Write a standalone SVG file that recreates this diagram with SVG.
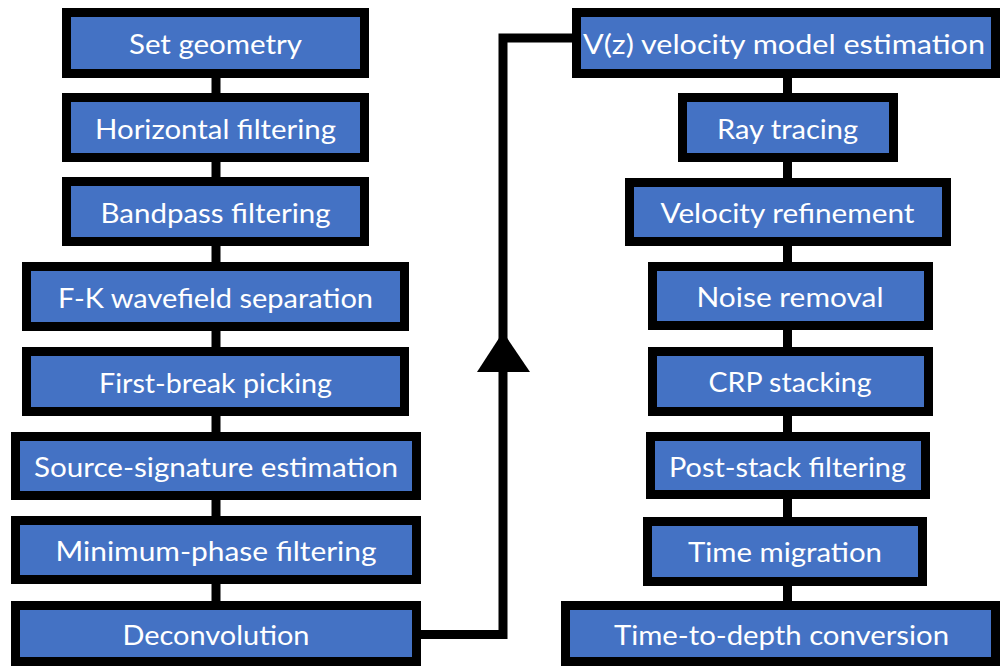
<svg xmlns="http://www.w3.org/2000/svg" width="1000" height="666" viewBox="0 0 1000 666">
<style>
.box{fill:#4472C4;stroke:#000;stroke-width:9}
.lbl{fill:#fff;font-family:Lato,"Open Sans","DejaVu Sans",sans-serif;font-size:27px;text-anchor:middle}
.con{fill:none;stroke:#000;stroke-width:9;stroke-linejoin:miter}
</style>
<rect width="1000" height="666" fill="#fff"/>
<g id="connectors">
<line class="con" x1="216" y1="78" x2="216" y2="93"/>
<line class="con" x1="216" y1="162" x2="216" y2="177"/>
<line class="con" x1="216" y1="246" x2="216" y2="262"/>
<line class="con" x1="216" y1="331" x2="216" y2="347"/>
<line class="con" x1="216" y1="416" x2="216" y2="432"/>
<line class="con" x1="216" y1="500" x2="216" y2="516"/>
<line class="con" x1="216" y1="584" x2="216" y2="601"/>
<line class="con" x1="787.5" y1="78" x2="787.5" y2="93"/>
<line class="con" x1="787.5" y1="162" x2="787.5" y2="178"/>
<line class="con" x1="787.5" y1="246" x2="787.5" y2="262"/>
<line class="con" x1="787.5" y1="330" x2="787.5" y2="347"/>
<line class="con" x1="787.5" y1="416" x2="787.5" y2="432"/>
<line class="con" x1="787.5" y1="499" x2="787.5" y2="517"/>
<line class="con" x1="787.5" y1="586" x2="787.5" y2="601"/>
<polyline class="con" points="421,634.5 503,634.5 503,38 572,38"/>
<polygon points="503,332 477,372 530,372" fill="#000"/>
</g>
<g id="n1"><rect class="box" x="66.5" y="12.5" width="298" height="61"/><text class="lbl" x="215.5" y="54" textLength="173" lengthAdjust="spacingAndGlyphs">Set geometry</text></g>
<g id="n2"><rect class="box" x="66.5" y="97.5" width="298" height="60"/><text class="lbl" x="215.5" y="139" textLength="241" lengthAdjust="spacingAndGlyphs">Horizontal filtering</text></g>
<g id="n3"><rect class="box" x="66.5" y="181.5" width="298" height="60"/><text class="lbl" x="215.5" y="223" textLength="230" lengthAdjust="spacingAndGlyphs">Bandpass filtering</text></g>
<g id="n4"><rect class="box" x="26.5" y="266.5" width="378" height="60"/><text class="lbl" x="215.5" y="308" textLength="315" lengthAdjust="spacingAndGlyphs">F-K wavefield separation</text></g>
<g id="n5"><rect class="box" x="26.5" y="351.5" width="378" height="60"/><text class="lbl" x="215.5" y="393" textLength="233" lengthAdjust="spacingAndGlyphs">First-break picking</text></g>
<g id="n6"><rect class="box" x="15.5" y="436.5" width="401" height="59"/><text class="lbl" x="216" y="477" textLength="364" lengthAdjust="spacingAndGlyphs">Source-signature estimation</text></g>
<g id="n7"><rect class="box" x="15.5" y="520.5" width="401" height="59"/><text class="lbl" x="216" y="561" textLength="321" lengthAdjust="spacingAndGlyphs">Minimum-phase filtering</text></g>
<g id="n8"><rect class="box" x="15.5" y="605.5" width="401" height="56"/><text class="lbl" x="216" y="645" textLength="187" lengthAdjust="spacingAndGlyphs">Deconvolution</text></g>
<g id="n9"><rect class="box" x="576.5" y="12.5" width="419" height="61"/><text class="lbl" x="784" y="54" textLength="402" lengthAdjust="spacingAndGlyphs">V(z) velocity model estimation</text></g>
<g id="n10"><rect class="box" x="682.5" y="97.5" width="211" height="60"/><text class="lbl" x="787.5" y="139" textLength="141" lengthAdjust="spacingAndGlyphs">Ray tracing</text></g>
<g id="n11"><rect class="box" x="629.5" y="182.5" width="317" height="59"/><text class="lbl" x="787.5" y="223" textLength="254" lengthAdjust="spacingAndGlyphs">Velocity refinement</text></g>
<g id="n12"><rect class="box" x="652.5" y="266.5" width="276" height="59"/><text class="lbl" x="790" y="307" textLength="187" lengthAdjust="spacingAndGlyphs">Noise removal</text></g>
<g id="n13"><rect class="box" x="652.5" y="351.5" width="276" height="60"/><text class="lbl" x="790" y="392" textLength="163" lengthAdjust="spacingAndGlyphs">CRP stacking</text></g>
<g id="n14"><rect class="box" x="650.5" y="436.5" width="275" height="58"/><text class="lbl" x="787.5" y="477" textLength="237" lengthAdjust="spacingAndGlyphs">Post-stack filtering</text></g>
<g id="n15"><rect class="box" x="647.5" y="521.5" width="275" height="60"/><text class="lbl" x="785" y="562" textLength="194" lengthAdjust="spacingAndGlyphs">Time migration</text></g>
<g id="n16"><rect class="box" x="565.5" y="605.5" width="430" height="56"/><text class="lbl" x="781.5" y="645" textLength="335" lengthAdjust="spacingAndGlyphs">Time-to-depth conversion</text></g>
</svg>
